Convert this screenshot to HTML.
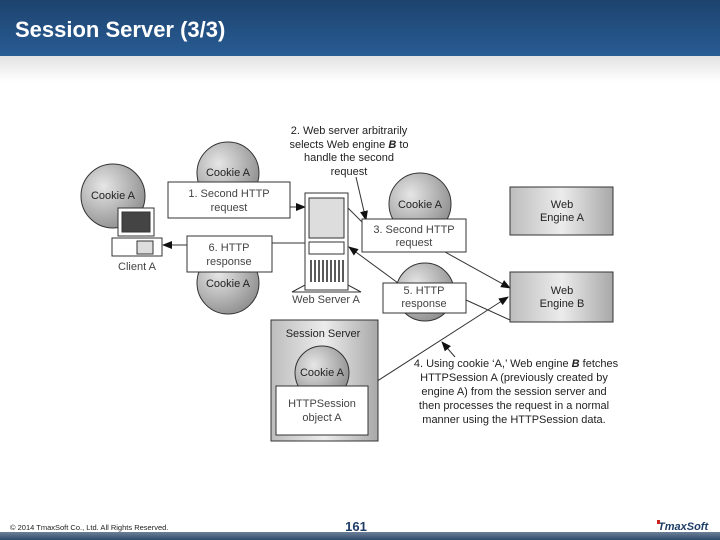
<!DOCTYPE html>
<html><head><meta charset="utf-8"><style>
html,body{margin:0;padding:0;width:720px;height:540px;overflow:hidden;background:#fff;font-family:"Liberation Sans",sans-serif}
#hdr{position:absolute;left:0;top:0;width:720px;height:56px;background:linear-gradient(#1d436e,#285c94)}
#hdr div{position:absolute;left:15px;top:17px;color:#fff;font-size:22px;font-weight:bold;letter-spacing:0px}
#sub{position:absolute;left:0;top:56px;width:720px;height:26px;background:linear-gradient(#e2e2e2,#fff)}
#foot{position:absolute;left:0;top:532px;width:720px;height:8px;background:linear-gradient(#6d8098,#2e4a6c)}
</style></head><body>
<div id="hdr"><div>Session Server (3/3)</div></div>
<div id="sub"></div>
<svg width="720" height="540" style="position:absolute;left:0;top:0" font-family="Liberation Sans, sans-serif" font-size="11" fill="#222">
<defs>
<radialGradient id="cg" cx="0.35" cy="0.35" r="0.75"><stop offset="0" stop-color="#e6e6e6"/><stop offset="1" stop-color="#8a8a8a"/></radialGradient>
<linearGradient id="eg" x1="0" y1="0" x2="1" y2="0"><stop offset="0" stop-color="#bdbdbd"/><stop offset="0.5" stop-color="#ececec"/><stop offset="1" stop-color="#a8a8a8"/></linearGradient>
<marker id="ar" markerWidth="10" markerHeight="8" refX="9" refY="4" orient="auto" markerUnits="userSpaceOnUse"><path d="M0,0 L10,4 L0,8 z" fill="#111"/></marker>
</defs>
<g stroke="#333" stroke-width="1">
<circle cx="113" cy="196" r="32" fill="url(#cg)"/>
<circle cx="228" cy="173" r="31" fill="url(#cg)"/>
<circle cx="228" cy="283" r="31" fill="url(#cg)"/>
<circle cx="420" cy="204" r="31" fill="url(#cg)"/>
<circle cx="425" cy="292" r="29" fill="url(#cg)"/>
<line x1="290" y1="207" x2="305" y2="207" marker-end="url(#ar)"/>
<line x1="187" y1="245" x2="163" y2="245" marker-end="url(#ar)"/>
<line x1="272" y1="243" x2="305" y2="243"/>
<line x1="348" y1="208" x2="362" y2="222"/>
<line x1="356" y1="177" x2="366" y2="220" marker-end="url(#ar)"/>
<line x1="445" y1="252" x2="510" y2="288" marker-end="url(#ar)"/>
<line x1="510" y1="320" x2="466" y2="300"/>
<line x1="398" y1="283" x2="349" y2="247" marker-end="url(#ar)"/>
<line x1="368" y1="387" x2="508" y2="297" marker-end="url(#ar)"/>
<line x1="455" y1="357" x2="442" y2="342" marker-end="url(#ar)"/>
<rect x="168" y="182" width="122" height="36" fill="#fff"/>
<rect x="187" y="236" width="85" height="36" fill="#fff"/>
<rect x="362" y="219" width="104" height="33" fill="#fff"/>
<rect x="383" y="283" width="83" height="30" fill="#fff"/>
<rect x="510" y="187" width="103" height="48" fill="url(#eg)"/>
<rect x="510" y="272" width="103" height="50" fill="url(#eg)"/>
<rect x="271" y="320" width="107" height="121" fill="url(#eg)"/>
<circle cx="322" cy="373" r="27" fill="url(#cg)"/>
<rect x="276" y="386" width="92" height="49" fill="#fff"/>
<rect x="118" y="208" width="36" height="28" fill="#fff"/>
<rect x="122" y="212" width="28" height="20" fill="#444"/>
<rect x="112" y="238" width="50" height="18" fill="#fff"/>
<rect x="137" y="241" width="16" height="13" fill="#ddd"/>
<path d="M292,292 L305,285 L348,285 L361,292 z" fill="#fff"/>
<rect x="305" y="193" width="43" height="97" fill="#fff"/>
<rect x="309" y="198" width="35" height="40" fill="#ddd"/>
<rect x="309" y="242" width="35" height="12" fill="#fff"/>
</g>
<g stroke="#222" stroke-width="1.5">
<path d="M311,260v22M315,260v22M319,260v22M323,260v22M327,260v22M331,260v22M335,260v22M339,260v22M343,260v22"/>
</g>
<g text-anchor="middle">
<text x="113" y="199">Cookie A</text>
<text x="228" y="176">Cookie A</text>
<text x="228" y="287">Cookie A</text>
<text x="420" y="208">Cookie A</text>
<text x="229" y="197" fill="#444">1. Second HTTP</text>
<text x="229" y="211" fill="#444">request</text>
<text x="229" y="251" fill="#444">6. HTTP</text>
<text x="229" y="265" fill="#444">response</text>
<text x="414" y="233" fill="#444">3. Second HTTP</text>
<text x="414" y="246" fill="#444">request</text>
<text x="424" y="294" fill="#444">5. HTTP</text>
<text x="424" y="307" fill="#444">response</text>
<text x="137" y="270" fill="#444">Client A</text>
<text x="326" y="303" fill="#444">Web Server A</text>
<text x="562" y="208">Web</text>
<text x="562" y="221">Engine A</text>
<text x="562" y="294">Web</text>
<text x="562" y="307">Engine B</text>
<text x="323" y="337">Session Server</text>
<text x="322" y="376">Cookie A</text>
<text x="322" y="407" fill="#444">HTTPSession</text>
<text x="322" y="421" fill="#444">object A</text>
<text x="349" y="134">2. Web server arbitrarily</text>
<text x="349" y="148">selects Web engine <tspan font-weight="bold" font-style="italic">B</tspan> to</text>
<text x="349" y="161">handle the second</text>
<text x="349" y="175">request</text>
<text x="516" y="367">4. Using cookie ‘A,’ Web engine <tspan font-weight="bold" font-style="italic">B</tspan> fetches</text>
<text x="514" y="381">HTTPSession A (previously created by</text>
<text x="514" y="395">engine A) from the session server and</text>
<text x="514" y="409">then processes the request in a normal</text>
<text x="514" y="423">manner using the HTTPSession data.</text>
<text x="356" y="531" font-size="13" font-weight="bold" fill="#1d3d66">161</text>
</g>
<text x="10" y="530" font-size="7.5" fill="#222">© 2014 TmaxSoft Co., Ltd. All Rights Reserved.</text>
<text x="658" y="530" font-size="11" font-weight="bold" font-style="italic" fill="#1d3d66">TmaxSoft</text>
<rect x="657" y="520" width="3" height="4" fill="#c22"/>
</svg>
<div id="foot"></div>
</body></html>
